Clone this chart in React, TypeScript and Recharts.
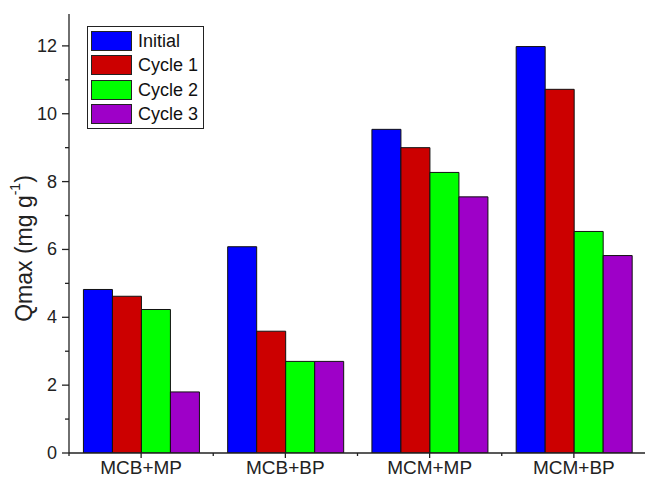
import React from 'react';
import { BarChart, Bar, XAxis, YAxis } from 'recharts';

const categories = ['MCB+MP', 'MCB+BP', 'MCM+MP', 'MCM+BP'];
const seriesNames = ['Initial', 'Cycle 1', 'Cycle 2', 'Cycle 3'];
const initialValues = [4.82, 6.08, 9.54, 11.98];
const cycle1Values = [4.62, 3.59, 9.0, 10.72];
const cycle2Values = [4.23, 2.7, 8.27, 6.53];
const cycle3Values = [1.8, 2.7, 7.55, 5.82];
const yTicks = [0, 1, 2, 3, 4, 5, 6, 7, 8, 9, 10, 11, 12];
const yMax = 12.94;

const colors = ['#0000FF', '#CC0000', '#00FF00', '#9E00C8'];
const seriesKeys = ['initial', 'cycle1', 'cycle2', 'cycle3'];
const seriesValues = [initialValues, cycle1Values, cycle2Values, cycle3Values];

const data = categories.map((c, i) => {
  const row: any = { name: c };
  seriesKeys.forEach((k, s) => {
    row[k] = seriesValues[s][i];
  });
  return row;
});

const FONT = '"Liberation Sans", Arial, sans-serif';
const CHART_W = 700;
const CHART_H = 474;
const MARGIN = { top: 6, right: 62, bottom: 0, left: 0 };
const Y_AXIS_W = 61;
const X_AXIS_H = 29;
const AXIS_X = MARGIN.left + Y_AXIS_W;
const AXIS_Y = CHART_H - MARGIN.bottom - X_AXIS_H;
const PLOT_W = CHART_W - MARGIN.left - MARGIN.right - Y_AXIS_W;
const BAND = PLOT_W / categories.length;
const AXIS_COLOR = '#222';

const YTick = (props: any) => {
  const { y, payload } = props;
  const v = payload.value;
  const major = v % 2 === 0;
  return (
    <g>
      <line x1={AXIS_X} x2={AXIS_X - (major ? 7 : 4)} y1={y} y2={y} stroke={AXIS_COLOR} strokeWidth={1.3} />
      {major && (
        <text x={AXIS_X - 12} y={y} textAnchor="end" dominantBaseline="central" fontSize={18} fontFamily={FONT} fill="#222">
          {v}
        </text>
      )}
    </g>
  );
};

const XTick = (props: any) => {
  const { x, payload } = props;
  const left = x - BAND / 2;
  return (
    <g>
      <line x1={x} x2={x} y1={AXIS_Y} y2={AXIS_Y + 5} stroke={AXIS_COLOR} strokeWidth={1.3} />
      <line x1={left} x2={left} y1={AXIS_Y} y2={AXIS_Y + 3} stroke={AXIS_COLOR} strokeWidth={1.3} />
      <text x={x} y={AXIS_Y + 8} dy="0.71em" textAnchor="middle" fontSize={19} fontFamily={FONT} fill="#222">
        {payload.value}
      </text>
    </g>
  );
};

const YLabel = (props: any) => {
  const vb = props.viewBox || { x: 0, y: MARGIN.top, width: Y_AXIS_W, height: AXIS_Y - MARGIN.top };
  const cx = vb.x + 16;
  const cy = vb.y + vb.height / 2 + 15;
  return (
    <text
      x={cx}
      y={cy}
      transform={`rotate(-90, ${cx}, ${cy})`}
      textAnchor="middle"
      dominantBaseline="central"
      fontSize={23}
      fontFamily={FONT}
      fill="#222"
    >
      Qmax (mg g
      <tspan dy={-9} fontSize={14}>-1</tspan>
      <tspan dy={9}>)</tspan>
    </text>
  );
};

const LegendBox = () => (
  <div
    style={{
      position: 'absolute',
      left: 79,
      top: 18,
      border: `1.5px solid ${AXIS_COLOR}`,
      background: '#fff',
      padding: '2px 4px 2px 3px',
      width: 108,
      boxSizing: 'content-box',
      fontFamily: FONT,
    }}
  >
    {seriesNames.map((n, i) => (
      <div key={n} style={{ display: 'flex', alignItems: 'center', height: 24.25 }}>
        <div
          style={{
            width: 41,
            height: 20,
            background: colors[i],
            border: '1px solid #222',
            boxSizing: 'border-box',
          }}
        />
        <span style={{ marginLeft: 6, fontSize: 18, color: '#111', lineHeight: '20px' }}>{n}</span>
      </div>
    ))}
  </div>
);

export default function App() {
  return (
    <div
      style={{
        position: 'absolute',
        left: 8,
        top: 8,
        width: 637,
        height: CHART_H,
        overflow: 'hidden',
        background: '#fff',
      }}
    >
      <BarChart
        width={CHART_W}
        height={CHART_H}
        data={data}
        margin={MARGIN}
        barGap={0}
        barCategoryGap="10%"
        accessibilityLayer={false}
      >
        <XAxis
          xAxisId="top"
          orientation="top"
          dataKey="name"
          height={0}
          tick={false}
          tickLine={false}
          axisLine={{ stroke: AXIS_COLOR, strokeWidth: 1.3 }}
        />
        <XAxis
          xAxisId="main"
          dataKey="name"
          height={X_AXIS_H}
          interval={0}
          tickLine={false}
          axisLine={{ stroke: AXIS_COLOR, strokeWidth: 1.3 }}
          tick={<XTick />}
        />
        <YAxis
          width={Y_AXIS_W}
          domain={[0, yMax]}
          ticks={yTicks}
          interval={0}
          allowDataOverflow
          tickLine={false}
          axisLine={{ stroke: AXIS_COLOR, strokeWidth: 1.3 }}
          tick={<YTick />}
          label={{ content: <YLabel /> } as any}
        />
        {seriesKeys.map((k, i) => (
          <Bar
            key={k}
            xAxisId="main"
            dataKey={k}
            name={seriesNames[i]}
            fill={colors[i]}
            stroke="#111"
            strokeWidth={1}
            isAnimationActive={false}
          />
        ))}
      </BarChart>
      <LegendBox />
    </div>
  );
}
